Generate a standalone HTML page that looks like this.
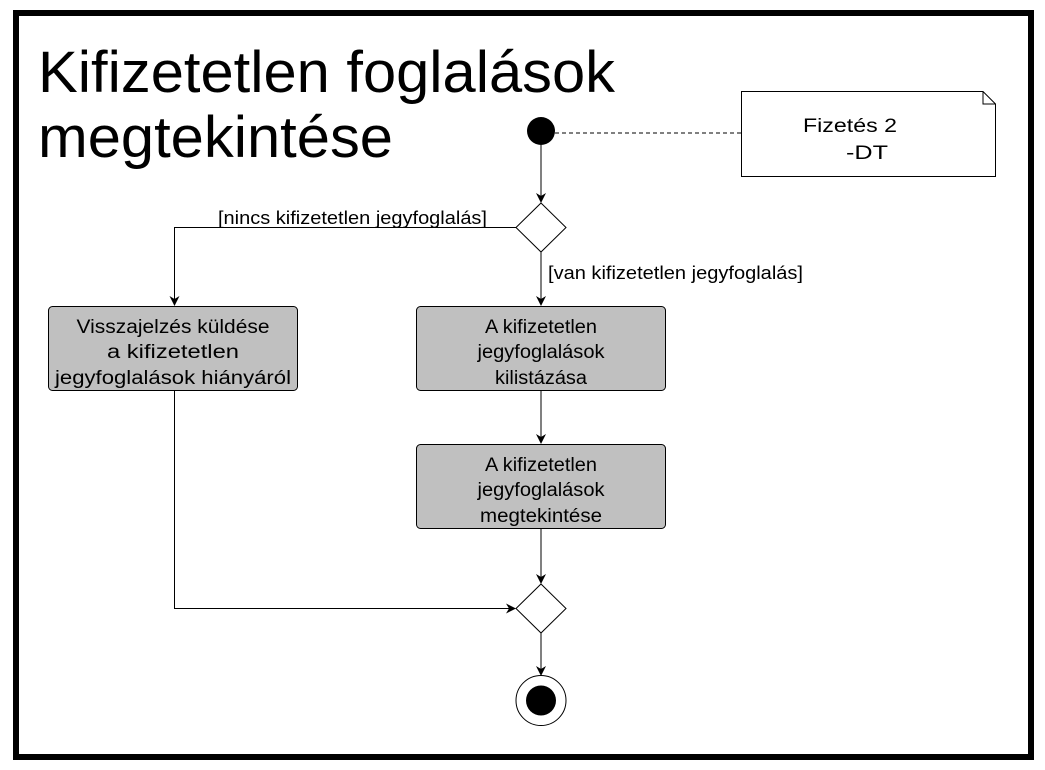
<!DOCTYPE html>
<html><head><meta charset="utf-8"><style>
html,body{margin:0;padding:0;background:#fff;}
svg{display:block;font-family:"Liberation Sans",sans-serif;}
text{}
</style></head><body>
<svg width="1045" height="770" viewBox="0 0 1045 770">
<defs><marker id="a" markerWidth="10" markerHeight="10" refX="9" refY="5" orient="auto" markerUnits="userSpaceOnUse"><path d="M0,0 L10,5 L0,10 L3,5 Z" fill="#000"/></marker></defs>
<rect x="16" y="13" width="1015" height="744" fill="#fff" stroke="#000" stroke-width="6"/>
<text x="38" y="92" font-size="58" textLength="577" lengthAdjust="spacingAndGlyphs">Kifizetetlen foglalások</text>
<text x="38" y="157" font-size="58" textLength="355" lengthAdjust="spacingAndGlyphs">megtekintése</text>
<circle cx="541" cy="131" r="14" fill="#000"/>
<line x1="555" y1="133" x2="741" y2="133" stroke="#000" stroke-dasharray="4,3"/>
<path d="M741.5,91.5 H983 L995.5,104 V176.5 H741.5 Z" fill="#fff" stroke="#000"/>
<path d="M983,91.5 V104 H995.5" fill="none" stroke="#000"/>
<text x="803" y="132" font-size="19" textLength="94" lengthAdjust="spacingAndGlyphs">Fizetés 2</text>
<text x="846" y="159" font-size="19" textLength="42" lengthAdjust="spacingAndGlyphs">-DT</text>
<line x1="541" y1="145" x2="541" y2="202" stroke="#000" marker-end="url(#a)"/>
<path d="M541,203 L566,227.5 L541,252 L516,227.5 Z" fill="#fff" stroke="#000"/>
<path d="M516,227.5 H174.5 V305" fill="none" stroke="#000" marker-end="url(#a)"/>
<text x="218" y="224" font-size="18" textLength="269" lengthAdjust="spacingAndGlyphs">[nincs kifizetetlen jegyfoglalás]</text>
<line x1="541" y1="252" x2="541" y2="305" stroke="#000" marker-end="url(#a)"/>
<text x="548" y="279" font-size="18" textLength="255" lengthAdjust="spacingAndGlyphs">[van kifizetetlen jegyfoglalás]</text>
<rect x="48.5" y="306.5" width="249" height="84" rx="4" fill="#c0c0c0" stroke="#000"/>
<text font-size="19" text-anchor="middle"><tspan x="173" y="333" textLength="193" lengthAdjust="spacingAndGlyphs">Visszajelzés küldése</tspan><tspan x="173" y="358" textLength="132" lengthAdjust="spacingAndGlyphs">a kifizetetlen</tspan><tspan x="173" y="384" textLength="236" lengthAdjust="spacingAndGlyphs">jegyfoglalások hiányáról</tspan></text>
<rect x="416.5" y="306.5" width="249" height="84" rx="4" fill="#c0c0c0" stroke="#000"/>
<text font-size="19" text-anchor="middle"><tspan x="541" y="333" textLength="112" lengthAdjust="spacingAndGlyphs">A kifizetetlen</tspan><tspan x="541" y="358" textLength="127" lengthAdjust="spacingAndGlyphs">jegyfoglalások</tspan><tspan x="541" y="384" textLength="92" lengthAdjust="spacingAndGlyphs">kilistázása</tspan></text>
<line x1="541" y1="391" x2="541" y2="443" stroke="#000" marker-end="url(#a)"/>
<rect x="416.5" y="444.5" width="249" height="84" rx="4" fill="#c0c0c0" stroke="#000"/>
<text font-size="19" text-anchor="middle"><tspan x="541" y="471" textLength="112" lengthAdjust="spacingAndGlyphs">A kifizetetlen</tspan><tspan x="541" y="496" textLength="127" lengthAdjust="spacingAndGlyphs">jegyfoglalások</tspan><tspan x="541" y="522" textLength="122" lengthAdjust="spacingAndGlyphs">megtekintése</tspan></text>
<line x1="541" y1="529" x2="541" y2="583" stroke="#000" marker-end="url(#a)"/>
<path d="M174.5,391 V608.5 H515" fill="none" stroke="#000" marker-end="url(#a)"/>
<path d="M541,584 L566,608.5 L541,633 L516,608.5 Z" fill="#fff" stroke="#000"/>
<line x1="541" y1="633" x2="541" y2="675" stroke="#000" marker-end="url(#a)"/>
<circle cx="541" cy="700.5" r="25" fill="#fff" stroke="#000"/>
<circle cx="541" cy="700.5" r="15" fill="#000"/>
</svg>
</body></html>
